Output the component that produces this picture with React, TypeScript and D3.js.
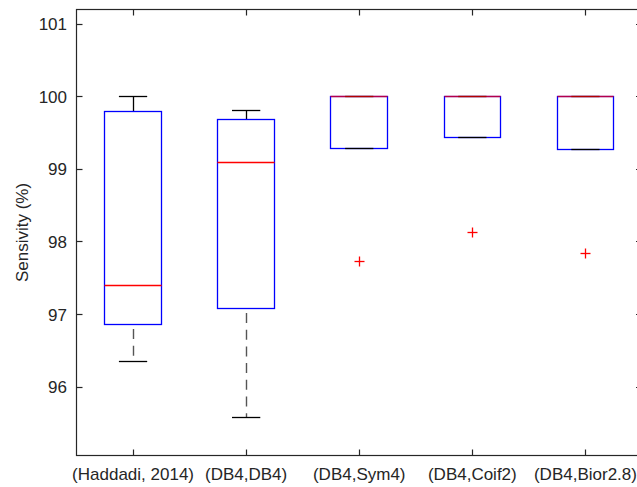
import React from "react";
import * as d3 from "d3";

const categories = ["(Haddadi, 2014)", "(DB4,DB4)", "(DB4,Sym4)", "(DB4,Coif2)", "(DB4,Bior2.8)"];
const whiskerLow = [96.35, 95.58, 99.28, 99.44, 99.27];
const q1 = [96.87, 97.09, 99.28, 99.44, 99.27];
const median = [97.4, 99.1, 100, 100, 100];
const q3 = [99.8, 99.69, 100, 100, 100];
const whiskerHigh = [100, 99.81, 100, 100, 100];
const outliers: number[][] = [[], [], [97.73], [98.13], [97.84]];
const yTicks = [96, 97, 98, 99, 100, 101];
const yLabel = "Sensivity (%)";

const W = 637;
const H = 487;
const left = 76.5;
const right = 642;
const top = 9.5;
const bottom = 455.5;
const font = "'Liberation Sans', Arial, Helvetica, sans-serif";
const axisColor = "#262626";
const fs = 17;
const lw = 1.3;

const snap = (v: number) => Math.round(v - 0.5) + 0.5;

export default function App() {
  const x = d3.scaleLinear().domain([0.5, categories.length + 0.5]).range([left, right]);
  const y = d3.scaleLinear().domain([95.06, 101.2]).range([bottom, top]);
  const boxHalf = 0.25;
  const capHalf = 0.125;
  const tickLen = 6;

  return (
    <svg width={W} height={H} style={{ position: "absolute", left: 0, top: 0, background: "#fff" }}>
      <rect x={0} y={0} width={W} height={H} fill="#fff" />
      {categories.map((c, i) => {
        const cx = snap(x(i + 1));
        const x0 = snap(x(i + 1 - boxHalf));
        const x1 = snap(x(i + 1 + boxHalf));
        const c0 = x(i + 1 - capHalf);
        const c1 = x(i + 1 + capHalf);
        const yq1 = snap(y(q1[i]));
        const yq3 = snap(y(q3[i]));
        const ylo = snap(y(whiskerLow[i]));
        const yhi = snap(y(whiskerHigh[i]));
        const ymed = snap(y(median[i]));
        return (
          <g key={c}>
            {whiskerLow[i] < q1[i] && (
              <line x1={cx} x2={cx} y1={yq1} y2={ylo} stroke="#555" strokeWidth={1.4}
                strokeDasharray="10,6.7" strokeDashoffset={12.2} />
            )}
            {whiskerHigh[i] > q3[i] && (
              <line x1={cx} x2={cx} y1={yq3} y2={yhi} stroke="#000" strokeWidth={lw} />
            )}
            <rect x={x0} y={yq3} width={x1 - x0} height={Math.max(0, yq1 - yq3)}
              fill="none" stroke="#0000ff" strokeWidth={lw} />
            <line x1={c0} x2={c1} y1={yhi} y2={yhi} stroke="#000" strokeWidth={lw} />
            <line x1={c0} x2={c1} y1={ylo} y2={ylo} stroke="#000" strokeWidth={lw} />
            <line x1={x0} x2={x1} y1={ymed} y2={ymed} stroke="#ff0000" strokeWidth={lw}
              strokeOpacity={median[i] === q3[i] ? 0.7 : 1} />
            {outliers[i].map((v, j) => {
              const oy = snap(y(v));
              return (
                <g key={j} stroke="#ff0000" strokeWidth={lw}>
                  <line x1={cx - 5} x2={cx + 5} y1={oy} y2={oy} />
                  <line x1={cx} x2={cx} y1={oy - 5} y2={oy + 5} />
                </g>
              );
            })}
          </g>
        );
      })}
      <rect x={left} y={top} width={right - left} height={bottom - top} fill="none" stroke={axisColor} strokeWidth={1.2} />
      {categories.map((c, i) => (
        <g key={"xt" + i}>
          <line x1={snap(x(i + 1))} x2={snap(x(i + 1))} y1={bottom} y2={bottom - tickLen} stroke={axisColor} strokeWidth={1.2} />
          <line x1={snap(x(i + 1))} x2={snap(x(i + 1))} y1={top} y2={top + tickLen} stroke={axisColor} strokeWidth={1.2} />
          <text x={x(i + 1)} y={480} textAnchor="middle" fontFamily={font} fontSize={fs} fill={axisColor}>
            {c}
          </text>
        </g>
      ))}
      {yTicks.map((t) => (
        <g key={"yt" + t}>
          <line x1={left} x2={left + tickLen} y1={snap(y(t))} y2={snap(y(t))} stroke={axisColor} strokeWidth={1.2} />
          <line x1={right} x2={right - tickLen} y1={snap(y(t))} y2={snap(y(t))} stroke={axisColor} strokeWidth={1.2} />
          <text x={left - 9.5} y={y(t)} dy="0.35em" textAnchor="end" fontFamily={font} fontSize={fs} fill={axisColor}>
            {t}
          </text>
        </g>
      ))}
      <text transform={`translate(28,${(top + bottom) / 2}) rotate(-90)`} textAnchor="middle"
        fontFamily={font} fontSize={fs} fill={axisColor}>
        {yLabel}
      </text>
    </svg>
  );
}
